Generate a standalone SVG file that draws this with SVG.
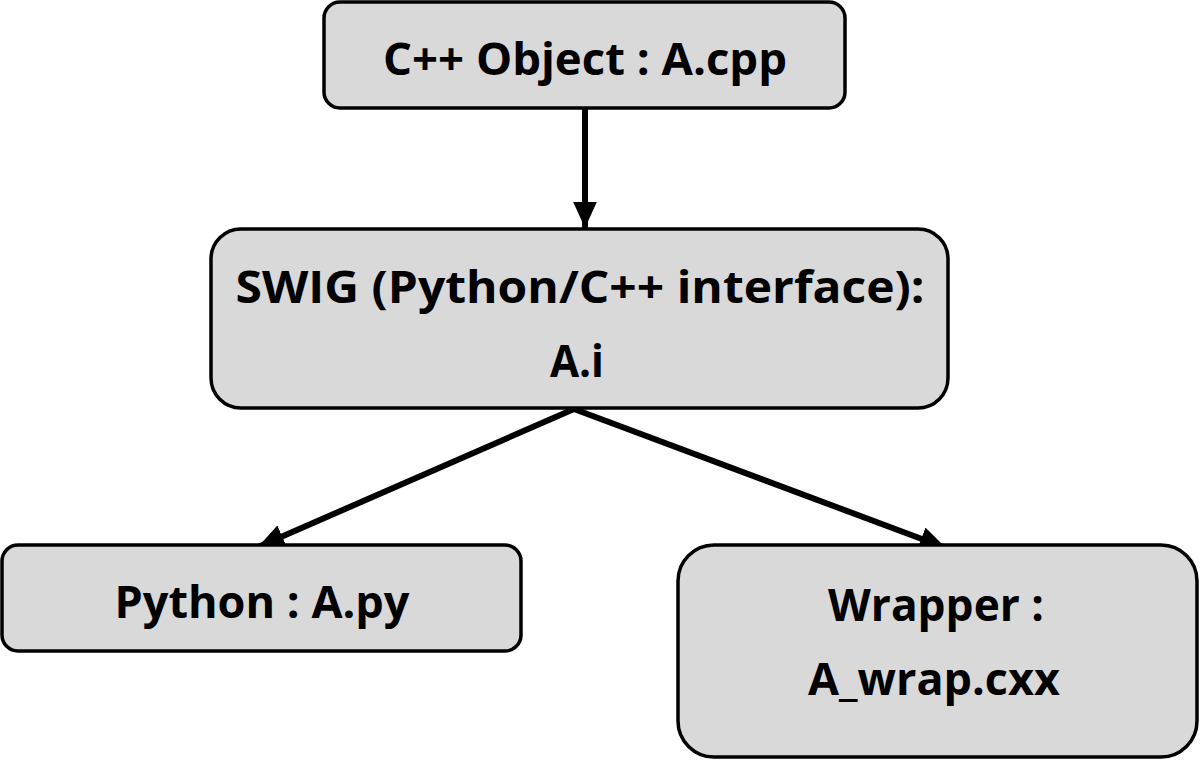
<svg xmlns="http://www.w3.org/2000/svg" width="1200" height="761" viewBox="0 0 1200 761">
<style>
.box{fill:#d9d9d9;stroke:#000;stroke-width:3.5}
.t{font-family:"Open Sans","Liberation Sans",sans-serif;font-weight:bold;font-size:45px;fill:#000;text-anchor:middle}
.c{stroke:#000;stroke-width:6;fill:none}
</style>
<defs>
<marker id="ah" viewBox="0 0 10 10" refX="10" refY="5" markerWidth="4.4" markerHeight="4" markerUnits="strokeWidth" orient="auto" preserveAspectRatio="none">
<path d="M0,0 L10,5 L0,10 Z" fill="#000"/>
</marker>
</defs>
<g id="connectors">
<line class="c" x1="585" y1="108" x2="585" y2="228" marker-end="url(#ah)"/>
<line class="c" x1="574" y1="409" x2="258" y2="547" marker-end="url(#ah)"/>
<line class="c" x1="574" y1="409" x2="946" y2="548" marker-end="url(#ah)"/>
</g>
<g id="cpp">
<rect class="box" x="324" y="2" width="521" height="106" rx="16"/>
<text class="t" x="585" y="75" textLength="404" lengthAdjust="spacingAndGlyphs">C++ Object : A.cpp</text>
</g>
<g id="swig">
<rect class="box" x="211" y="229" width="737" height="179" rx="30"/>
<text class="t" x="580" y="303" textLength="689" lengthAdjust="spacingAndGlyphs">SWIG (Python/C++ interface):</text>
<text class="t" x="577" y="377" textLength="54" lengthAdjust="spacingAndGlyphs">A.i</text>
</g>
<g id="python">
<rect class="box" x="2" y="545" width="519" height="106" rx="16"/>
<text class="t" x="262" y="618" textLength="295" lengthAdjust="spacingAndGlyphs">Python : A.py</text>
</g>
<g id="wrapper">
<rect class="box" x="678" y="545" width="519" height="212" rx="36"/>
<text class="t" x="936" y="621" textLength="216" lengthAdjust="spacingAndGlyphs">Wrapper :</text>
<text class="t" x="934" y="695" textLength="252" lengthAdjust="spacingAndGlyphs">A_wrap.cxx</text>
</g>
</svg>
